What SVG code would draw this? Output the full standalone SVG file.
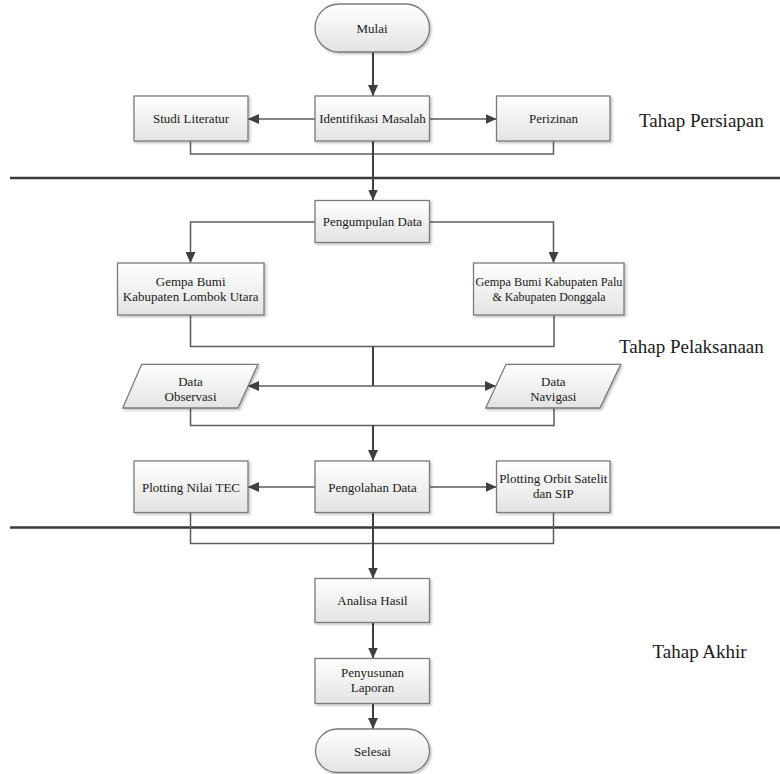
<svg xmlns="http://www.w3.org/2000/svg" width="780" height="774" viewBox="0 0 780 774" font-family="'Liberation Serif', 'DejaVu Serif', serif">
<style>
  .box { fill: url(#g); stroke: #7a7a7a; stroke-width: 1.3; filter: url(#sh); }
  .lbl { font-family: 'Liberation Serif', 'DejaVu Serif', serif; font-size: 13px; fill: #1a1a1a; text-anchor: middle; }
  .stage { font-family: 'Liberation Serif', 'DejaVu Serif', serif; font-size: 19px; fill: #1a1a1a; }
  .con { fill: none; stroke: #5c5c5c; stroke-width: 1.5; }
  .spine { fill: none; stroke: #3f3f3f; stroke-width: 2; }
  .arr { marker-end: url(#ah); }
  .sep { stroke: #3a3a3a; stroke-width: 2.5; }
</style>
<defs>
  <linearGradient id="g" x1="0" y1="0" x2="0" y2="1">
    <stop offset="0" stop-color="#ffffff"/>
    <stop offset="1" stop-color="#e3e3e3"/>
  </linearGradient>
  <filter id="sh" x="-10%" y="-10%" width="125%" height="135%">
    <feDropShadow dx="1.5" dy="1.5" stdDeviation="1" flood-color="#000" flood-opacity="0.25"/>
  </filter>
  <marker id="ah" markerUnits="userSpaceOnUse" markerWidth="11" markerHeight="10" refX="11" refY="5" orient="auto">
    <path d="M0,0 L11,5 L0,10 Z" fill="#3f3f3f"/>
  </marker>
</defs>
<rect width="780" height="774" fill="#ffffff"/>

<g id="separators">
  <line class="sep" x1="10" y1="178" x2="780" y2="178"/>
  <line class="sep" x1="10" y1="527.5" x2="780" y2="527.5"/>
</g>

<g id="connectors">
  <path class="spine arr" d="M373,52 V96"/>
  <path class="con arr" d="M315,119 H248"/>
  <path class="con arr" d="M429.5,119 H496.5"/>
  <path class="con" d="M190.5,141 V154 H553.5 V141"/>
  <path class="spine arr" d="M373,141 V200.5"/>
  <path class="con arr" d="M315,222 H190.5 V263"/>
  <path class="con arr" d="M429.5,222 H553.5 V263"/>
  <path class="con" d="M190.5,315 V346.5 H554 V315"/>
  <path class="spine" d="M373,346.5 V386"/>
  <path class="con arr" d="M373,386 H248"/>
  <path class="con arr" d="M373,386 H496"/>
  <path class="con" d="M190.5,408 V425.5 H554 V408"/>
  <path class="spine arr" d="M373,425.5 V461"/>
  <path class="con arr" d="M315,487 H248"/>
  <path class="con arr" d="M429.5,487 H496.5"/>
  <path class="con" d="M190.5,512.5 V543.5 H553.5 V512.5"/>
  <path class="spine arr" d="M373,512.5 V578.5"/>
  <path class="spine arr" d="M373,622.5 V658.5"/>
  <path class="spine arr" d="M373,703.5 V729"/>
</g>

<g id="mulai">
  <rect class="box" x="315" y="4" width="114.5" height="48" rx="24" ry="24"/>
  <text class="lbl" x="372" y="32.5">Mulai</text>
</g>
<g id="studi-literatur">
  <rect class="box" x="134" y="96" width="114" height="45"/>
  <text class="lbl" x="191" y="123">Studi Literatur</text>
</g>
<g id="identifikasi-masalah">
  <rect class="box" x="315" y="96" width="114.5" height="45"/>
  <text class="lbl" x="372.5" y="123">Identifikasi Masalah</text>
</g>
<g id="perizinan">
  <rect class="box" x="496.5" y="96" width="113.5" height="45"/>
  <text class="lbl" x="553.5" y="123">Perizinan</text>
</g>
<g id="pengumpulan-data">
  <rect class="box" x="315" y="200.5" width="114.5" height="42"/>
  <text class="lbl" x="372.5" y="226">Pengumpulan Data</text>
</g>
<g id="gempa-lombok">
  <rect class="box" x="117.5" y="263" width="146.5" height="52"/>
  <text class="lbl" x="190.7" y="285.7">Gempa Bumi</text>
  <text class="lbl" x="190.7" y="300.7">Kabupaten Lombok Utara</text>
</g>
<g id="gempa-palu">
  <rect class="box" x="473.5" y="263" width="150.5" height="52"/>
  <text class="lbl" x="549" y="285.7" textLength="147" lengthAdjust="spacingAndGlyphs">Gempa Bumi Kabupaten Palu</text>
  <text class="lbl" x="549" y="300.7" textLength="113" lengthAdjust="spacingAndGlyphs">&amp; Kabupaten Donggala</text>
</g>
<g id="data-observasi">
  <polygon class="box" points="141.7,364.3 258,364.3 238,408 122.7,408"/>
  <text class="lbl" x="190.5" y="385.5">Data</text>
  <text class="lbl" x="190.5" y="400.5">Observasi</text>
</g>
<g id="data-navigasi">
  <polygon class="box" points="506,364.3 620.7,364.3 600,408 485.7,408"/>
  <text class="lbl" x="553.3" y="385.5">Data</text>
  <text class="lbl" x="553.3" y="400.5">Navigasi</text>
</g>
<g id="plotting-tec">
  <rect class="box" x="134" y="461" width="114" height="51.5"/>
  <text class="lbl" x="191" y="491.5">Plotting Nilai TEC</text>
</g>
<g id="pengolahan-data">
  <rect class="box" x="315" y="461" width="114.5" height="51.5"/>
  <text class="lbl" x="372.5" y="491.5">Pengolahan Data</text>
</g>
<g id="plotting-orbit">
  <rect class="box" x="496.5" y="461" width="113.5" height="51.5"/>
  <text class="lbl" x="553.3" y="483.3">Plotting Orbit Satelit</text>
  <text class="lbl" x="553.3" y="498.3">dan SIP</text>
</g>
<g id="analisa-hasil">
  <rect class="box" x="315" y="578.5" width="114.5" height="44"/>
  <text class="lbl" x="372.5" y="605">Analisa Hasil</text>
</g>
<g id="penyusunan-laporan">
  <rect class="box" x="315" y="658.5" width="114.5" height="45"/>
  <text class="lbl" x="372.5" y="676.7">Penyusunan</text>
  <text class="lbl" x="372.5" y="691.7">Laporan</text>
</g>
<g id="selesai">
  <rect class="box" x="315.5" y="729" width="114" height="43.5" rx="21.75" ry="21.75"/>
  <text class="lbl" x="372.5" y="755.5">Selesai</text>
</g>

<g id="stage-labels">
  <text class="stage" x="639" y="126.5">Tahap Persiapan</text>
  <text class="stage" x="619" y="353">Tahap Pelaksanaan</text>
  <text class="stage" x="652.5" y="657.5">Tahap Akhir</text>
</g>
</svg>
